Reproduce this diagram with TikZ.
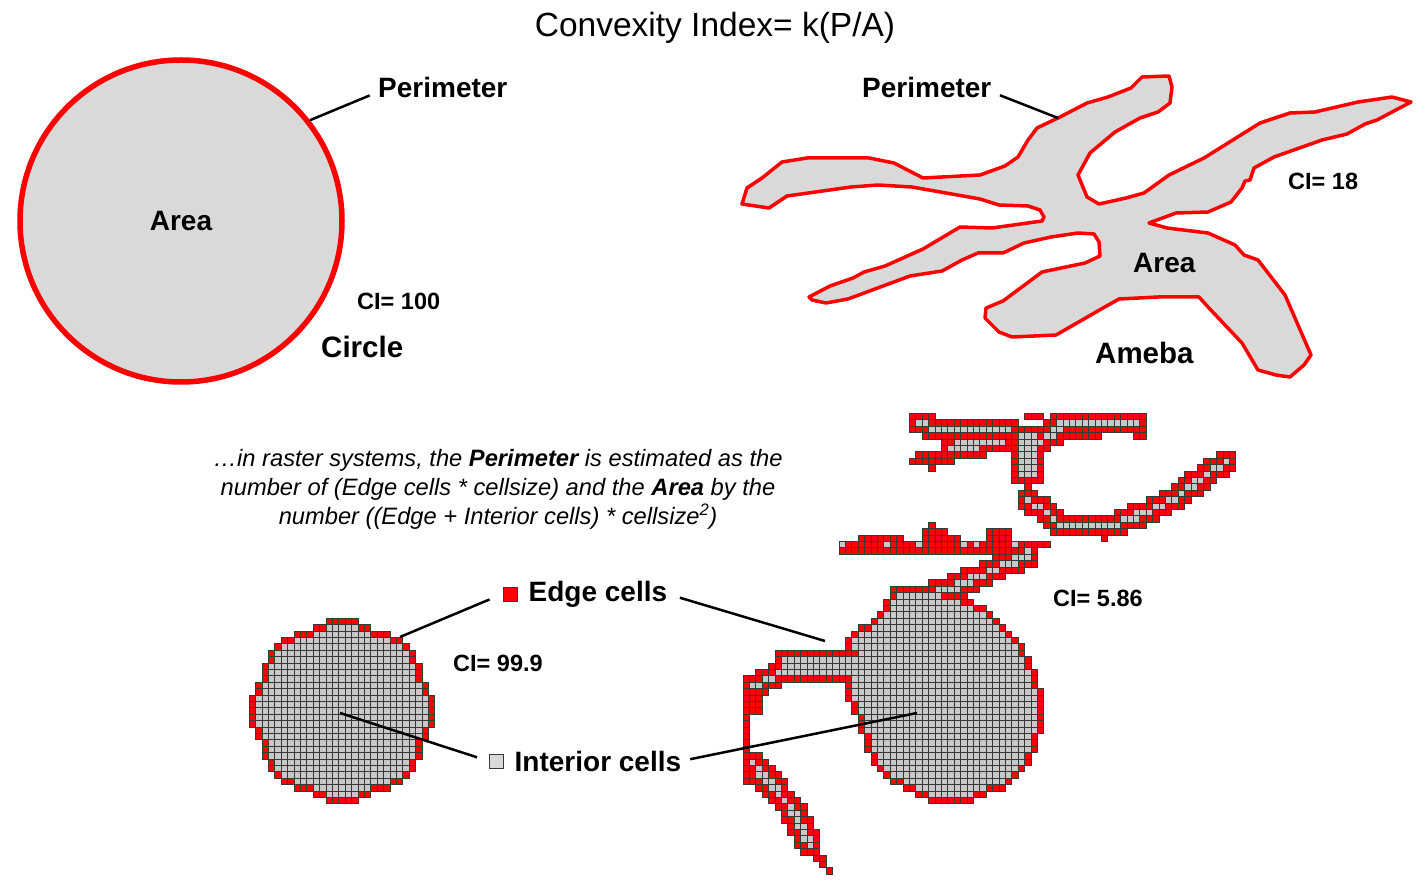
\documentclass[tikz,border=0pt]{standalone}
\usepackage{fontspec}
\setmainfont{Liberation Sans}
\usetikzlibrary{positioning}

\definecolor{relleno}{HTML}{D9D9D9}
\definecolor{celdagris}{HTML}{C8C8C8}
\definecolor{celdalinea}{HTML}{383838}

% rejilla de celdas
\def\tamcelda{6.4}
\def\rejx{0}\def\rejy{0}
\newcommand{\celda}[3]{\filldraw[#3] ({\rejx+(#1)*\tamcelda},{\rejy+(#2)*\tamcelda}) rectangle ++(\tamcelda,\tamcelda);}

% filas de celdas: fila inicial, numero de filas, limites izq./der.
\newcommand{\filas}[4]{%
  \foreach \fr in {1,...,#2}{%
    \pgfmathtruncatemacro\fra{\fr-1}%
    \pgfmathtruncatemacro\frb{\fr+1}%
    \pgfmathtruncatemacro\flo{#3[\fr]}%
    \pgfmathtruncatemacro\fhi{#4[\fr]}%
    \pgfmathtruncatemacro\floa{#3[\fra]}%
    \pgfmathtruncatemacro\fhia{#4[\fra]}%
    \pgfmathtruncatemacro\flob{#3[\frb]}%
    \pgfmathtruncatemacro\fhib{#4[\frb]}%
    \pgfmathtruncatemacro\fj{#1+\fr-1}%
    \foreach \fc in {\flo,...,\fhi}{%
      \pgfmathtruncatemacro\borde{(\fc==\flo)||(\fc==\fhi)||(\fc<\floa)||(\fc>\fhia)||(\fc<\flob)||(\fc>\fhib)}%
      \ifnum\borde=1 \celda{\fc}{\fj}{celdaborde}\else\celda{\fc}{\fj}{celdainterior}\fi}}}

% trazos de celdas: reduccion, estilo, lista x1/y1/x2/y2/ancho
\newcommand{\trazos}[3]{%
  \foreach \ax/\ay/\bx/\by/\w in #3{%
    \pgfmathtruncatemacro\ww{\w-#1}%
    \ifnum\ww<0 \else
      \pgfmathtruncatemacro\npasos{max(1,ceil(veclen(\bx-\ax,\by-\ay)/(0.8*\tamcelda)))}%
      \foreach \k in {0,...,\npasos}{%
        \pgfmathtruncatemacro\ci{floor((\ax+(\bx-\ax)*\k/\npasos-\rejx)/\tamcelda)}%
        \pgfmathtruncatemacro\cj{floor((\ay+(\by-\ay)*\k/\npasos-\rejy)/\tamcelda)}%
        \foreach \di in {-\ww,...,\ww}{%
          \foreach \dj in {-\ww,...,\ww}{\celda{\ci+\di}{\cj+\dj}{#2}}}}%
    \fi}}

\def\circLo{{99,12,10,7,5,4,3,3,2,2,2,1,1,0,0,0,0,0,1,1,2,2,2,3,3,4,5,7,10,12,99}}
\def\circHi{{-99,16,18,21,23,24,25,25,26,26,26,27,27,28,28,28,28,28,27,27,26,26,26,25,25,24,23,21,18,16,-99}}
\def\cuerpoLo{{99,23,23,22,22,21,20,18,17,16,16,17,17,17,16,16,16,16,16,17,17,18,18,18,19,19,19,20,20,21,22,23,25,27,29,99}}
\def\cuerpoHi{{-99,30,33,35,37,38,39,40,41,42,43,43,44,44,45,45,45,46,46,46,46,46,46,46,45,45,45,44,44,43,42,41,40,37,35,-99}}

\def\tentaculos{%
  % brazo superior izquierdo
  920/426/1010/430/1, 955/440/1000/440/1, 950/448/975/448/1, 975/445/1010/445/0,
  919/455/977/455/0, 914/461/948/461/0, 934/467/934/467/0,
  % brazo superior derecho
  1068/423/1138/423/1, 1062/425/1035/445/1, 1025/416/1043/416/0,
  1075/433/1095/433/0, 1135/433/1140/433/0,
  % tronco
  1030/445/1030/470/2, 1030/487/1030/487/0, 1025/500/1038/505/1,
  1040/505/1062/528/1,
  % brazo derecho
  1058/526/1130/522/1, 1130/520/1180/495/1, 1180/495/1225/462/1,
  1107/540/1107/540/0,
  % brazo medio
  842/544/1045/544/0, 842/551/1000/551/0, 862/538/900/538/0,
  925/538/955/538/0, 987/538/1010/538/0, 925/531/942/531/0,
  987/531/1008/531/0, 933/525/933/525/0,
  % diagonal hacia el cuerpo
  1030/553/960/585/1, 960/585/900/605/1,
  % brazo izquierdo
  878/667/790/667/2, 790/667/752/688/1, 762/692/762/712/0,
  755/700/755/712/0, 746/700/746/782/0,
  % tentaculo inferior
  752/762/770/782/1, 770/782/787/803/1, 787/803/800/825/1,
  800/825/810/845/1, 810/845/828/868/0}

% celdas interiores sueltas del brazo medio
\def\grises{845/545/845/545/0, 886/543/886/543/0, 916/543/916/543/0,
  963/543/963/543/0, 976/545/976/545/0, 1013/543/1013/543/0}

\begin{document}
\begin{tikzpicture}[x=1pt,y=-1pt,
  etiqueta/.style={font=\fontsize{28}{34}\selectfont\bfseries,inner sep=0pt},
  nombre/.style={font=\fontsize{29.5}{36}\selectfont\bfseries,inner sep=0pt},
  indice/.style={font=\fontsize{23.5}{28}\selectfont\bfseries,inner sep=0pt},
  guia/.style={line width=2.5pt,black},
  forma/.style={draw=red,fill=relleno,line join=round},
  celdaborde/.style={fill=red,draw=celdalinea,line width=1pt},
  celdainterior/.style={fill=celdagris,draw=celdalinea,line width=1pt},
  leyenda/.style={draw=celdalinea,line width=1pt,minimum size=14pt,inner sep=0pt}]
\useasboundingbox (0,0) rectangle (1428,890);

% Titulo
\node[inner sep=0pt,anchor=base,font=\fontsize{33.5}{40}\selectfont] (titulo) at (715,37) {Convexity Index= k(P/A)};

% Circulo vectorial
\node[forma,circle,etiqueta,line width=5.5pt,minimum size=322pt] (circulo) at (181,221) {Area};
\node[etiqueta,anchor=base west] (perimetro1) at (378,98) {Perimeter};
\node[indice,anchor=base west] (ci100) at (357,310) {CI= 100};
\node[nombre,anchor=base west] (nomCirculo) at (321,358) {Circle};
\draw[guia,shorten >=9pt] (circulo.38.6) -- ([yshift=-4pt]perimetro1.west);

% Ameba vectorial
\draw[forma,line width=3.5pt] (742,204) -- (747,188) -- (762,178) -- (782,162) -- (807,158) -- (869,158)
  -- (894,163) -- (923,178) -- (980,175) -- (1005,166) -- (1018,157) -- (1028,140) -- (1037,128)
  -- (1060,117) -- (1087,103) -- (1108,97) -- (1131,88) -- (1142,77) -- (1169,76) -- (1172,87)
  -- (1170,103) -- (1158,112) -- (1140,118) -- (1115,132) -- (1090,153) -- (1078,175) -- (1087,197)
  -- (1099,204) -- (1126,198) -- (1144,193) -- (1169,175) -- (1204,158) -- (1260,123) -- (1290,113)
  -- (1315,112) -- (1358,102) -- (1392,97) -- (1411,102) -- (1377,120) -- (1365,124) -- (1347,134)
  -- (1322,140) -- (1274,157) -- (1254,168) -- (1250,180) -- (1245,181) -- (1242,188) -- (1231,202)
  -- (1208,212) -- (1176,213) -- (1149,223) -- (1167,228) -- (1208,233) -- (1235,245) -- (1244,255)
  -- (1258,260) -- (1285,295) -- (1311,355) -- (1304,365) -- (1290,377) -- (1276,375) -- (1258,370)
  -- (1242,343) -- (1208,307) -- (1199,297) -- (1158,297) -- (1119,299) -- (1103,308) -- (1056,335)
  -- (1012,337) -- (999,332) -- (985,318) -- (986,308) -- (1003,301) -- (1042,272) -- (1085,263)
  -- (1100,256) -- (1099,242) -- (1094,234) -- (1078,233) -- (1051,237) -- (1024,243) -- (1003,253)
  -- (978,253) -- (962,260) -- (942,271) -- (910,276) -- (848,299) -- (826,303) -- (812,300)
  -- (809,297) -- (830,286) -- (853,278) -- (864,272) -- (885,266) -- (923,249) -- (960,227)
  -- (992,228) -- (1042,221) -- (1044,217) -- (1040,210) -- (1028,206) -- (999,205) -- (980,199)
  -- (912,187) -- (878,185) -- (851,187) -- (787,196) -- (769,208) -- cycle;
\coordinate (perAmeba) at (1058,118);
\node[etiqueta,anchor=base west] (perimetro2) at (862,98) {Perimeter};
\node[indice,anchor=base west] (ci18) at (1288,189.5) {CI= 18};
\node[etiqueta,anchor=base west] (area2) at (1133,273) {Area};
\node[nombre,anchor=base west] (nomAmeba) at (1095,364) {Ameba};
\draw[guia,shorten <=9pt] ([yshift=-4pt]perimetro2.east) -- (perAmeba);

% Texto explicativo
\node[align=center,inner sep=0pt,font=\fontsize{23.7}{29}\selectfont\itshape] (texto) at (498,489)
  {…in raster systems, the \textbf{Perimeter} is estimated as the\\
   number of (Edge cells * cellsize) and the \textbf{Area} by the\\
   number ((Edge + Interior cells) * cellsize\textsuperscript{2})};

% Circulo en celdas
\def\rejx{249.3}\def\rejy{618.3}
\filas{0}{29}{\circLo}{\circHi}

% Ameba en celdas
\def\rejx{743}\def\rejy{413.5}
\trazos{0}{celdaborde}{\tentaculos}
\filas{27}{34}{\cuerpoLo}{\cuerpoHi}
\trazos{1}{celdainterior}{\tentaculos}
\trazos{0}{celdainterior}{\grises}

\node[indice,anchor=base west] (ci999) at (453,671) {CI= 99.9};
\node[indice,anchor=base west] (ci586) at (1053,606) {CI= 5.86};

% Leyenda y lineas guia
\coordinate (bordeCirc) at (400,637);
\coordinate (centroCirc) at (340,713);
\coordinate (bordeAmeba) at (825,641);
\coordinate (centroAmeba) at (917,713);
\node[leyenda,fill=red] (cuadroBorde) at (510,594) {};
\node[etiqueta,right=11pt of cuadroBorde] (txtBorde) {Edge cells};
\node[leyenda,fill=relleno] (cuadroInterior) at (496,761) {};
\node[etiqueta,right=11pt of cuadroInterior] (txtInterior) {Interior cells};
\draw[guia,shorten >=14pt] (bordeCirc) -- (cuadroBorde.west);
\draw[guia,shorten <=13pt] (txtBorde.east) -- (bordeAmeba);
\draw[guia,shorten >=12pt] (centroCirc) -- (cuadroInterior.west);
\draw[guia,shorten <=9pt] (txtInterior.east) -- (centroAmeba);
\end{tikzpicture}
\end{document}
